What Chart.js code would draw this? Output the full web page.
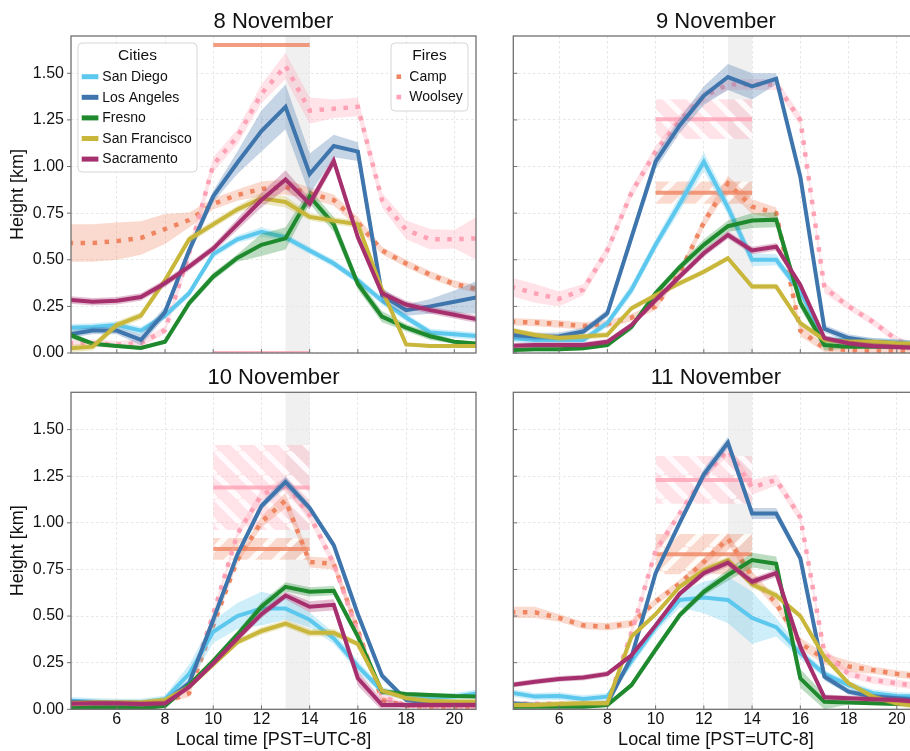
<!DOCTYPE html>
<html>
<head>
<meta charset="utf-8">
<script src="https://cdn.jsdelivr.net/npm/chart.js@4.4.1/dist/chart.umd.min.js"></script>
<style>
  body { margin: 0; background: #fff; width: 910px; height: 751px; overflow: hidden; position: relative; }
  canvas { position: absolute; }
</style>
</head>
<body>
<canvas id="p0" width="495" height="375" style="left:0;top:0"></canvas>
<canvas id="p1" width="430" height="375" style="left:495px;top:0"></canvas>
<canvas id="p2" width="495" height="396" style="left:0;top:355px"></canvas>
<canvas id="p3" width="430" height="396" style="left:495px;top:355px"></canvas>
<script>
// hours of day (local time), one value per hour
const hours = [4, 5, 6, 7, 8, 9, 10, 11, 12, 13, 14, 15, 16, 17, 18, 19, 20, 21];
const days = ['8 November', '9 November', '10 November', '11 November'];
const xTicks = [6, 8, 10, 12, 14, 16, 18, 20];
const yTicks = [0, 0.25, 0.5, 0.75, 1.0, 1.25, 1.5];
const overpassHours = [13, 14];
const sourceHours = [10, 14];

// mean heights [km], one row per day
const sanDiego = [
  [0.135, 0.14, 0.15, 0.12, 0.20, 0.32, 0.53, 0.61, 0.65, 0.62, 0.55, 0.48, 0.39, 0.28, 0.19, 0.11, 0.10, 0.09],
  [0.08, 0.07, 0.07, 0.07, 0.16, 0.34, 0.58, 0.80, 1.026, 0.78, 0.50, 0.50, 0.33, 0.07, 0.07, 0.06, 0.055, 0.045],
  [0.046, 0.04, 0.036, 0.036, 0.054, 0.19, 0.416, 0.50, 0.54, 0.54, 0.48, 0.38, 0.23, 0.10, 0.068, 0.06, 0.068, 0.086],
  [0.089, 0.068, 0.071, 0.055, 0.068, 0.26, 0.44, 0.586, 0.60, 0.586, 0.49, 0.44, 0.30, 0.19, 0.13, 0.086, 0.071, 0.068]
];
const losAngeles = [
  [0.10, 0.12, 0.12, 0.07, 0.22, 0.55, 0.84, 1.02, 1.19, 1.32, 0.96, 1.11, 1.08, 0.31, 0.23, 0.25, 0.275, 0.30],
  [0.097, 0.088, 0.09, 0.115, 0.213, 0.62, 1.026, 1.22, 1.38, 1.48, 1.43, 1.47, 0.945, 0.13, 0.08, 0.06, 0.052, 0.043],
  [0.04, 0.036, 0.032, 0.032, 0.04, 0.14, 0.48, 0.83, 1.09, 1.22, 1.08, 0.88, 0.51, 0.18, 0.05, 0.032, 0.029, 0.032],
  [0.032, 0.023, 0.023, 0.023, 0.032, 0.28, 0.73, 1.0, 1.26, 1.43, 1.05, 1.05, 0.81, 0.175, 0.095, 0.068, 0.059, 0.05]
];
const fresno = [
  [0.10, 0.05, 0.038, 0.027, 0.06, 0.267, 0.41, 0.51, 0.58, 0.615, 0.84, 0.69, 0.37, 0.195, 0.136, 0.09, 0.06, 0.05],
  [0.016, 0.02, 0.02, 0.025, 0.043, 0.14, 0.32, 0.46, 0.58, 0.68, 0.71, 0.715, 0.27, 0.043, 0.034, 0.034, 0.034, 0.034],
  [0.005, 0.01, 0.009, 0.005, 0.018, 0.13, 0.26, 0.40, 0.55, 0.657, 0.63, 0.636, 0.39, 0.095, 0.082, 0.077, 0.071, 0.068],
  [0.014, 0.014, 0.014, 0.014, 0.023, 0.13, 0.32, 0.505, 0.63, 0.72, 0.80, 0.78, 0.166, 0.04, 0.036, 0.032, 0.029, 0.025]
];
const sanFrancisco = [
  [0.025, 0.034, 0.15, 0.20, 0.39, 0.61, 0.69, 0.77, 0.83, 0.81, 0.73, 0.71, 0.69, 0.34, 0.046, 0.038, 0.038, 0.038],
  [0.123, 0.097, 0.08, 0.088, 0.097, 0.24, 0.31, 0.374, 0.436, 0.508, 0.356, 0.356, 0.16, 0.07, 0.06, 0.06, 0.052, 0.048],
  [0.032, 0.036, 0.036, 0.036, 0.05, 0.12, 0.24, 0.36, 0.42, 0.46, 0.41, 0.41, 0.35, 0.10, 0.06, 0.045, 0.04, 0.04],
  [0.023, 0.023, 0.029, 0.032, 0.032, 0.39, 0.51, 0.657, 0.746, 0.80, 0.67, 0.61, 0.50, 0.28, 0.14, 0.068, 0.032, 0.014]
];
const sacramento = [
  [0.285, 0.275, 0.28, 0.30, 0.374, 0.463, 0.56, 0.69, 0.82, 0.93, 0.80, 1.03, 0.62, 0.32, 0.26, 0.23, 0.205, 0.18],
  [0.038, 0.043, 0.043, 0.043, 0.06, 0.15, 0.284, 0.41, 0.535, 0.633, 0.55, 0.57, 0.365, 0.08, 0.052, 0.038, 0.032, 0.027],
  [0.029, 0.032, 0.032, 0.029, 0.032, 0.12, 0.246, 0.38, 0.51, 0.61, 0.55, 0.56, 0.166, 0.023, 0.023, 0.023, 0.023, 0.023],
  [0.13, 0.148, 0.163, 0.17, 0.19, 0.29, 0.45, 0.62, 0.73, 0.786, 0.684, 0.73, 0.336, 0.064, 0.059, 0.054, 0.05, 0.04]
];
const camp = [
  [0.59, 0.59, 0.60, 0.617, 0.665, 0.713, 0.80, 0.847, 0.88, 0.89, 0.857, 0.82, 0.70, 0.55, 0.48, 0.42, 0.37, 0.34],
  [0.168, 0.163, 0.156, 0.145, 0.156, 0.19, 0.25, 0.43, 0.70, 0.91, 0.785, 0.75, 0.12, 0.025, 0.016, 0.012, 0.012, 0.012],
  [0.02, 0.02, 0.02, 0.02, 0.04, 0.086, 0.45, 0.80, 1.005, 1.12, 0.79, 0.78, 0.425, 0.05, 0.018, 0.014, 0.014, 0.014],
  [0.52, 0.52, 0.49, 0.45, 0.443, 0.46, 0.577, 0.675, 0.79, 0.916, 0.71, 0.568, 0.354, 0.27, 0.23, 0.21, 0.19, 0.175]
];
const woolsey = [
  [0.052, 0.052, 0.045, 0.052, 0.123, 0.535, 1.01, 1.16, 1.39, 1.54, 1.30, 1.31, 1.32, 0.82, 0.66, 0.61, 0.61, 0.615],
  [0.356, 0.32, 0.29, 0.34, 0.55, 0.86, 1.08, 1.25, 1.375, 1.44, 1.44, 1.44, 1.25, 0.35, 0.25, 0.168, 0.07, 0.02],
  [0.02, 0.02, 0.02, 0.02, 0.03, 0.12, 0.51, 0.94, 1.15, 1.21, 1.04, 0.78, 0.41, 0.07, 0.02, 0.015, 0.015, 0.015],
  [0.03, 0.03, 0.03, 0.03, 0.03, 0.41, 0.85, 1.05, 1.25, 1.39, 1.19, 1.23, 1.03, 0.30, 0.19, 0.157, 0.14, 0.12]
];

// half-width of the shaded spread [km]
const sanDiegoSpread = [
  [0.02, 0.02, 0.02, 0.02, 0.02, 0.02, 0.02, 0.02, 0.025, 0.02, 0.02, 0.02, 0.02, 0.02, 0.02, 0.02, 0.02, 0.02],
  [0.02, 0.02, 0.02, 0.02, 0.02, 0.03, 0.03, 0.04, 0.05, 0.04, 0.035, 0.03, 0.02, 0.02, 0.02, 0.02, 0.02, 0.02],
  [0.02, 0.02, 0.02, 0.02, 0.02, 0.05, 0.06, 0.07, 0.09, 0.06, 0.04, 0.03, 0.03, 0.02, 0.02, 0.02, 0.02, 0.02],
  [0.02, 0.02, 0.02, 0.02, 0.02, 0.03, 0.03, 0.04, 0.085, 0.125, 0.14, 0.05, 0.03, 0.02, 0.02, 0.02, 0.02, 0.02]
];
const losAngelesSpread = [
  [0.02, 0.02, 0.02, 0.03, 0.03, 0.03, 0.03, 0.06, 0.11, 0.12, 0.11, 0.06, 0.05, 0.04, 0.03, 0.04, 0.06, 0.09],
  [0.02, 0.02, 0.02, 0.02, 0.02, 0.03, 0.04, 0.04, 0.05, 0.07, 0.07, 0.03, 0.03, 0.02, 0.02, 0.02, 0.02, 0.02],
  [0.015, 0.015, 0.015, 0.015, 0.015, 0.02, 0.02, 0.02, 0.02, 0.03, 0.02, 0.02, 0.02, 0.02, 0.015, 0.015, 0.015, 0.015],
  [0.015, 0.015, 0.015, 0.015, 0.015, 0.02, 0.02, 0.02, 0.03, 0.03, 0.03, 0.03, 0.02, 0.02, 0.015, 0.015, 0.015, 0.015]
];
const fresnoSpread = [
  [0.02, 0.01, 0.01, 0.01, 0.01, 0.02, 0.02, 0.02, 0.06, 0.06, 0.04, 0.04, 0.03, 0.03, 0.02, 0.02, 0.01, 0.01],
  [0.01, 0.01, 0.01, 0.01, 0.01, 0.02, 0.02, 0.02, 0.03, 0.03, 0.04, 0.04, 0.03, 0.03, 0.01, 0.01, 0.01, 0.01],
  [0.01, 0.01, 0.01, 0.01, 0.01, 0.015, 0.015, 0.02, 0.025, 0.025, 0.025, 0.025, 0.02, 0.015, 0.01, 0.01, 0.01, 0.01],
  [0.01, 0.01, 0.01, 0.01, 0.01, 0.015, 0.02, 0.02, 0.02, 0.03, 0.04, 0.04, 0.05, 0.04, 0.01, 0.01, 0.01, 0.01]
];
const sanFranciscoSpread = [
  [0.02, 0.02, 0.02, 0.02, 0.02, 0.02, 0.02, 0.02, 0.03, 0.03, 0.02, 0.02, 0.02, 0.02, 0.01, 0.01, 0.01, 0.01],
  [0.015, 0.015, 0.015, 0.015, 0.015, 0.015, 0.015, 0.015, 0.015, 0.015, 0.015, 0.015, 0.015, 0.015, 0.015, 0.015, 0.015, 0.015],
  [0.015, 0.015, 0.015, 0.015, 0.015, 0.015, 0.015, 0.015, 0.02, 0.02, 0.02, 0.02, 0.015, 0.015, 0.015, 0.015, 0.015, 0.015],
  [0.015, 0.015, 0.015, 0.015, 0.015, 0.015, 0.015, 0.015, 0.02, 0.02, 0.02, 0.02, 0.015, 0.015, 0.015, 0.015, 0.015, 0.015]
];
const sacramentoSpread = [
  [0.02, 0.02, 0.02, 0.02, 0.02, 0.02, 0.02, 0.03, 0.04, 0.05, 0.03, 0.03, 0.02, 0.02, 0.02, 0.02, 0.02, 0.02],
  [0.015, 0.015, 0.015, 0.015, 0.015, 0.015, 0.02, 0.02, 0.02, 0.02, 0.02, 0.02, 0.02, 0.015, 0.015, 0.015, 0.015, 0.015],
  [0.015, 0.015, 0.015, 0.015, 0.015, 0.015, 0.015, 0.02, 0.02, 0.02, 0.03, 0.03, 0.04, 0.03, 0.015, 0.015, 0.015, 0.015],
  [0.015, 0.015, 0.015, 0.015, 0.015, 0.015, 0.015, 0.015, 0.02, 0.02, 0.02, 0.02, 0.015, 0.015, 0.015, 0.015, 0.015, 0.015]
];
const campSpread = [
  [0.10, 0.10, 0.10, 0.09, 0.08, 0.04, 0.03, 0.03, 0.04, 0.04, 0.03, 0.03, 0.03, 0.02, 0.02, 0.02, 0.02, 0.02],
  [0.02, 0.02, 0.02, 0.02, 0.02, 0.02, 0.02, 0.02, 0.03, 0.04, 0.04, 0.03, 0.03, 0.02, 0.01, 0.01, 0.01, 0.01],
  [0.01, 0.01, 0.01, 0.01, 0.01, 0.02, 0.02, 0.02, 0.03, 0.04, 0.03, 0.03, 0.03, 0.02, 0.01, 0.01, 0.01, 0.01],
  [0.03, 0.03, 0.02, 0.02, 0.02, 0.02, 0.02, 0.02, 0.02, 0.03, 0.03, 0.03, 0.03, 0.03, 0.03, 0.02, 0.02, 0.02]
];
const woolseySpread = [
  [0.02, 0.02, 0.02, 0.02, 0.02, 0.04, 0.04, 0.04, 0.05, 0.07, 0.07, 0.05, 0.05, 0.04, 0.05, 0.055, 0.05, 0.12],
  [0.05, 0.05, 0.04, 0.03, 0.03, 0.03, 0.03, 0.03, 0.03, 0.03, 0.03, 0.03, 0.03, 0.03, 0.02, 0.02, 0.02, 0.02],
  [0.01, 0.01, 0.01, 0.01, 0.01, 0.02, 0.02, 0.02, 0.03, 0.03, 0.03, 0.03, 0.02, 0.02, 0.01, 0.01, 0.01, 0.01],
  [0.01, 0.01, 0.01, 0.01, 0.01, 0.03, 0.03, 0.02, 0.02, 0.03, 0.04, 0.03, 0.03, 0.03, 0.02, 0.02, 0.02, 0.02]
];

// fire source heights over the 10-14 h window, with their spread (0 = none drawn)
const campSource = [1.652, 0.86, 0.86, 0.832];
const campSourceSpread = [0, 0.06, 0.058, 0.108];
const woolseySource = [0.0, 1.254, 1.19, 1.23];
const woolseySourceSpread = [0, 0.107, 0.228, 0.128];

const cities = [
  { name: 'San Diego', color: '#5cc8ee', mean: sanDiego, spread: sanDiegoSpread },
  { name: 'Los Angeles', color: '#3e75ad', mean: losAngeles, spread: losAngelesSpread },
  { name: 'Fresno', color: '#1f8a2d', mean: fresno, spread: fresnoSpread },
  { name: 'San Francisco', color: '#c8b73b', mean: sanFrancisco, spread: sanFranciscoSpread },
  { name: 'Sacramento', color: '#a62f6e', mean: sacramento, spread: sacramentoSpread }
];
const fires = [
  { name: 'Camp', color: '#ef8561', mean: camp, spread: campSpread, level: campSource, levelSpread: campSourceSpread, dir: '/' },
  { name: 'Woolsey', color: '#ffa1b5', mean: woolsey, spread: woolseySpread, level: woolseySource, levelSpread: woolseySourceSpread, dir: '\\' }
];

Chart.defaults.font.family = "'Liberation Sans', Arial, sans-serif";
Chart.defaults.color = '#111';

function rgba(hex, a) {
  const n = parseInt(hex.slice(1), 16);
  return 'rgba(' + (n >> 16) + ',' + ((n >> 8) & 255) + ',' + (n & 255) + ',' + a + ')';
}

function hatch(hex, dir) {
  const s = 24;
  const c = document.createElement('canvas');
  c.width = s; c.height = s;
  const g = c.getContext('2d');
  g.fillStyle = rgba(hex, 0.3);
  g.fillRect(0, 0, s, s);
  g.strokeStyle = 'rgba(255,255,255,0.85)';
  g.lineWidth = 5.5;
  g.beginPath();
  for (let k = -1; k <= 1; k++) {
    if (dir === '/') { g.moveTo(k * s, s); g.lineTo(k * s + s, 0); }
    else { g.moveTo(k * s, 0); g.lineTo(k * s + s, s); }
  }
  g.stroke();
  return g.createPattern(c, 'repeat');
}

const flat = { pointRadius: 0, tension: 0, clip: 0, fill: false, borderWidth: 0, borderColor: 'rgba(0,0,0,0)' };

function series(vals, spread, sign) {
  return hours.map((h, i) => ({ x: h, y: vals[i] + sign * spread[i] }));
}

function buildDatasets(d) {
  const ds = [];
  fires.forEach(f => {
    const lvl = f.level[d], sp = f.levelSpread[d];
    if (sp > 0) {
      ds.push({ ...flat, data: sourceHours.map(h => ({ x: h, y: lvl - sp })) });
      ds.push({ ...flat, data: sourceHours.map(h => ({ x: h, y: lvl + sp })), fill: '-1', backgroundColor: hatch(f.color, f.dir) });
    }
  });
  fires.forEach(f => {
    ds.push({ ...flat, data: sourceHours.map(h => ({ x: h, y: f.level[d] })), borderColor: rgba(f.color, 0.8), borderWidth: 4, borderCapStyle: 'butt' });
  });
  fires.forEach(f => {
    ds.push({ ...flat, data: series(f.mean[d], f.spread[d], -1) });
    ds.push({ ...flat, data: series(f.mean[d], f.spread[d], 1), fill: '-1', backgroundColor: rgba(f.color, 0.3) });
    ds.push({ ...flat, data: series(f.mean[d], f.spread[d], 0), borderColor: f.color, borderWidth: 4.5, borderDash: [4.5, 7.5], borderCapStyle: 'butt' });
  });
  cities.forEach(c => {
    ds.push({ ...flat, data: series(c.mean[d], c.spread[d], -1) });
    ds.push({ ...flat, data: series(c.mean[d], c.spread[d], 1), fill: '-1', backgroundColor: rgba(c.color, 0.3) });
    ds.push({ ...flat, data: series(c.mean[d], c.spread[d], 0), borderColor: c.color, borderWidth: 4, borderJoinStyle: 'miter' });
  });
  ds.forEach((o, i) => { o.order = ds.length - i; });
  return ds;
}

function roundBox(ctx, x, y, w, h, r) {
  ctx.beginPath();
  ctx.moveTo(x + r, y);
  ctx.arcTo(x + w, y, x + w, y + h, r);
  ctx.arcTo(x + w, y + h, x, y + h, r);
  ctx.arcTo(x, y + h, x, y, r);
  ctx.arcTo(x, y, x + w, y, r);
  ctx.closePath();
  ctx.fillStyle = 'rgba(255,255,255,0.85)';
  ctx.fill();
  ctx.strokeStyle = '#d6d6d6';
  ctx.lineWidth = 1;
  ctx.stroke();
}

const decor = {
  id: 'decor',
  beforeDraw(chart) {
    const { ctx, chartArea: a, scales: { x } } = chart;
    const x0 = x.getPixelForValue(overpassHours[0]), x1 = x.getPixelForValue(overpassHours[1]);
    ctx.save();
    ctx.fillStyle = '#f0f0f0';
    ctx.fillRect(x0, a.top, x1 - x0, a.bottom - a.top);
    ctx.restore();
  },
  afterDatasetsDraw(chart, args, opts) {
    const { ctx, chartArea: a, scales: { x, y } } = chart;
    ctx.save();
    // frame
    ctx.strokeStyle = '#707070';
    ctx.lineWidth = 1.3;
    ctx.strokeRect(a.left, a.top, a.right - a.left, a.bottom - a.top);
    // tick marks
    ctx.beginPath();
    xTicks.forEach(v => { const p = x.getPixelForValue(v); ctx.moveTo(p, a.bottom); ctx.lineTo(p, a.bottom - 4); });
    yTicks.forEach(v => {
      const p = y.getPixelForValue(v);
      if (opts.leftCol) { ctx.moveTo(a.left - 4, p); ctx.lineTo(a.left, p); }
      else { ctx.moveTo(a.left, p); ctx.lineTo(a.left + 4, p); }
    });
    ctx.lineWidth = 1;
    ctx.stroke();
    // title
    ctx.fillStyle = '#111';
    ctx.font = "22px 'Liberation Sans', Arial, sans-serif";
    ctx.textAlign = 'center';
    ctx.textBaseline = 'middle';
    ctx.fillText(opts.title, (a.left + a.right) / 2, a.top - 14);
    // legends
    if (opts.legend) {
      const bx = a.left + 7, by = a.top + 7;
      roundBox(ctx, bx, by, 119, 129, 4);
      ctx.fillStyle = '#111';
      ctx.font = "15.5px 'Liberation Sans', Arial, sans-serif";
      ctx.textAlign = 'center';
      ctx.fillText('Cities', bx + 59.5, by + 12.5);
      ctx.textAlign = 'left';
      ctx.font = "14px 'Liberation Sans', Arial, sans-serif";
      cities.forEach((c, i) => {
        const ry = by + 33.7 + i * 20.6;
        ctx.fillStyle = c.color;
        ctx.fillRect(bx + 3.7, ry - 2.5, 16.7, 5);
        ctx.fillStyle = '#111';
        ctx.fillText(c.name, bx + 24.3, ry + 0.5);
      });
      const fw = 77, fx = a.right - 8 - fw, fy = a.top + 7;
      roundBox(ctx, fx, fy, fw, 68, 4);
      ctx.fillStyle = '#111';
      ctx.font = "15.5px 'Liberation Sans', Arial, sans-serif";
      ctx.textAlign = 'center';
      ctx.fillText('Fires', fx + 38.5, fy + 12.5);
      ctx.textAlign = 'left';
      ctx.font = "14px 'Liberation Sans', Arial, sans-serif";
      fires.forEach((f, i) => {
        const ry = fy + 33.7 + i * 20.4;
        ctx.fillStyle = f.color;
        ctx.fillRect(fx + 5.5, ry - 2.3, 4.6, 4.6);
        ctx.fillStyle = '#111';
        ctx.fillText(f.name, fx + 18.3, ry + 0.5);
      });
    }
    ctx.restore();
  }
};

function makePanel(d) {
  const leftCol = d % 2 === 0;
  const bottomRow = d >= 2;
  new Chart(document.getElementById('p' + d), {
    type: 'line',
    data: { datasets: buildDatasets(d) },
    plugins: [decor],
    options: {
      responsive: false,
      animation: false,
      events: [],
      layout: { padding: { left: 0, right: leftCol ? 19 : 6.5, top: bottomRow ? 37.3 : 36, bottom: 0 } },
      plugins: {
        legend: { display: false },
        tooltip: { enabled: false },
        decor: { title: days[d], leftCol: leftCol, legend: d === 0 }
      },
      scales: {
        x: {
          type: 'linear', min: 4.1, max: 20.9,
          afterBuildTicks: s => { s.ticks = xTicks.map(v => ({ value: v })); },
          afterFit: s => { s.height = bottomRow ? 41.7 : 22; },
          grid: { color: '#e6e6e6', lineWidth: 1, drawTicks: false },
          border: { display: false, dash: [2.5, 2.5] },
          ticks: { display: bottomRow, padding: 1, font: { size: 16 }, color: '#111' },
          title: { display: bottomRow, text: 'Local time [PST=UTC-8]', font: { size: 18 }, color: '#111', padding: { top: 0, bottom: 0 } }
        },
        y: {
          type: 'linear', min: 0, max: 1.7,
          afterBuildTicks: s => { s.ticks = yTicks.map(v => ({ value: v })); },
          afterFit: s => { s.width = leftCol ? 71 : 18.3; },
          grid: { color: '#e6e6e6', lineWidth: 1, drawTicks: false },
          border: { display: false, dash: [2.5, 2.5] },
          ticks: { display: leftCol, padding: 7, font: { size: 16 }, color: '#111', callback: v => v.toFixed(2) },
          title: { display: leftCol, text: 'Height [km]', font: { size: 18 }, color: '#111', padding: { top: 7, bottom: 0 } }
        }
      }
    }
  });
}

[0, 1, 2, 3].forEach(makePanel);
</script>
</body>
</html>
